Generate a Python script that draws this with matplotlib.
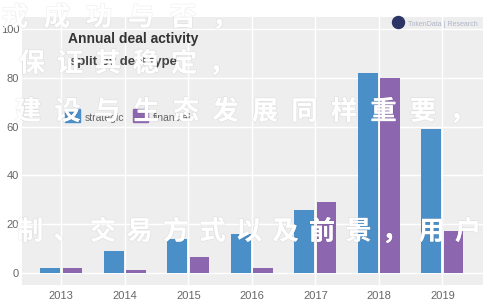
import matplotlib.pyplot as plt
import matplotlib.patheffects as pe
from matplotlib.patches import Rectangle, Ellipse

# data
years = ["2013", "2014", "2015", "2016", "2017", "2018", "2019"]
strategic = [2, 9, 14, 16, 26, 82, 59]
financial = [2, 1, 6.5, 2, 29, 80, 17]

blue = "#4b8fc8"
purple = "#8c66ae"

plt.rcParams['font.family'] = ['Liberation Sans', 'DejaVu Sans']

fig = plt.figure(figsize=(5, 3), dpi=100)
ax = fig.add_axes([0.044, 0.05, 0.922, 0.893])
ax.set_facecolor("#eeeeee")
for s in ax.spines.values():
    s.set_visible(False)

x = list(range(len(years)))
w = 0.31
ax.bar([i - w / 2 - 0.02 for i in x], strategic, width=w, color=blue, zorder=3)
ax.bar([i + w / 2 + 0.02 for i in x], financial, width=w, color=purple, zorder=3)

ax.set_xlim(-0.62, 6.64)
ax.set_ylim(-5, 105)
ax.set_yticks([0, 20, 40, 60, 80, 100])
ax.set_xticks(x)
ax.set_xticklabels(years)
ax.grid(True, color="white", linewidth=1, zorder=1)
ax.tick_params(length=0, labelsize=8, colors="#666666", pad=4)
ax.tick_params(axis="y", pad=2)

# title, subtitle and legend inside the plot
fig.text(0.136, 0.855, "Annual deal activity", fontsize=10, fontweight="bold", color="#333333")
fig.text(0.140, 0.783, "split by deal type", fontsize=9.5, fontweight="bold", color="#444444")
fig.patches.append(Rectangle((0.130, 0.592), 0.03, 0.046, transform=fig.transFigure, color=blue))
fig.text(0.170, 0.597, "strategic", fontsize=7.5, color="#666666")
fig.patches.append(Rectangle((0.266, 0.592), 0.03, 0.046, transform=fig.transFigure, color=purple))
fig.text(0.306, 0.597, "financial", fontsize=7.5, color="#666666")

# source logo
fig.patches.append(Ellipse((0.797, 0.925), 0.024, 0.04, transform=fig.transFigure, color="#2c3566"))
fig.text(0.815, 0.913, "TokenData | Research", fontsize=5, color="#b0b4c8")

# watermark text overlay
wm = [
    (15, 18, "戎成功与否，", 42),
    (32, 64, "保证其稳定，", 38),
    (28, 112, "建设与生态发展同样重要，", 39.5),
    (30, 232, "制、交易方式以及前景，用户", 36.5),
]
fx = [pe.withStroke(linewidth=1, foreground="#0000000f")]
for x0, y0, txt, step in wm:
    for k, ch in enumerate(txt):
        fig.text((x0 + k * step) / 500, 1 - y0 / 300, ch, fontsize=19, fontweight="bold",
                 color="white", ha="center", va="center",
                 family=["Noto Sans CJK SC", "DejaVu Sans"], path_effects=fx, zorder=10)

fig.savefig("out.png", dpi=100)
